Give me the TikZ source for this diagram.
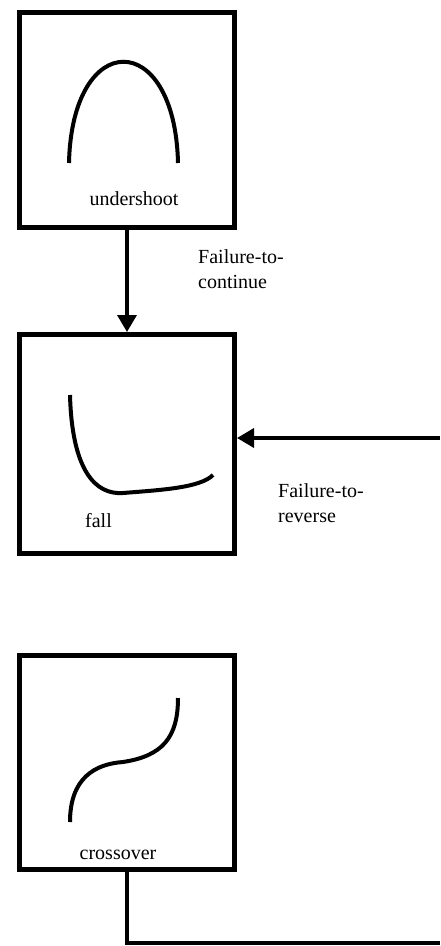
\documentclass[tikz,border=0pt]{standalone}
\usepackage{fontspec}
\setmainfont{Liberation Serif}
\usetikzlibrary{arrows.meta}
\begin{document}
\begin{tikzpicture}[x=1pt,y=-1pt,
  box/.style={draw,line width=5pt,minimum width=215pt,inner sep=0pt,anchor=north west},
  curve/.style={line width=4pt},
  conn/.style={line width=3.5pt},
  arr/.style={conn,-{Triangle[width=19pt,length=17pt]}},
  lbl/.style={inner sep=0pt,font=\fontsize{20}{25}\selectfont},
]
\useasboundingbox (0,0) rectangle (440,946);
% boxes
\node[box,minimum height=215pt] (b1) at (17,9.5) {};
\node[box,minimum height=219pt] (b2) at (17,332) {};
\node[box,minimum height=214pt] (b3) at (17,653) {};
% curves
\draw[curve] (69,163) .. controls (72,28) and (175,28) .. (178,163);
\draw[curve] (70,395) .. controls (72,470) and (95,495) .. (123,493)
  .. controls (160,490) and (200,488) .. (213,475);
\draw[curve] (70,822) .. controls (70,778) and (95,764) .. (123,762)
  .. controls (162,756) and (178,738) .. (178,698);
% box labels
\node[lbl,anchor=base] (t1) at (134,205) {undershoot};
\node[lbl,anchor=base west] (t2) at (85,527) {fall};
\node[lbl,anchor=base] (t3) at (118,859) {crossover};
% connectors
\draw[arr] (b1.south) -- (b2.north);
\coordinate (r2) at (440,438);
\draw[arr] (r2) -- (r2 -| b2.east);
\coordinate (c1) at (b3.south |- 0,943);
\coordinate (c2) at (440,943);
\draw[conn] (b3.south) -- (c1) -- (c2);
% connector labels
\node[lbl,anchor=base west,align=left] (l1) at (198,288) {Failure-to-\\continue};
\node[lbl,anchor=base west,align=left] (l2) at (278,522) {Failure-to-\\reverse};
\end{tikzpicture}
\end{document}
